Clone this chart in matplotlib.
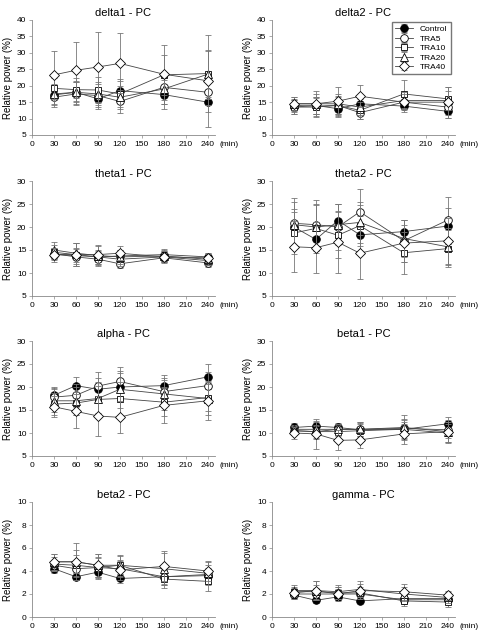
import matplotlib
matplotlib.use("Agg")
import matplotlib.pyplot as plt
import numpy as np

plt.rcParams['font.family'] = ['Liberation Sans', 'DejaVu Sans']

times = [30, 60, 90, 120, 180, 240]
groups = ["Control", "TRA5", "TRA10", "TRA20", "TRA40"]
xticks = [0, 30, 60, 90, 120, 150, 180, 210, 240]

titles = ["delta1 - PC", "delta2 - PC", "theta1 - PC", "theta2 - PC",
          "alpha - PC", "beta1 - PC", "beta2 - PC", "gamma - PC"]
ylims = [(5, 40), (5, 40), (5, 30), (5, 30), (5, 30), (5, 30), (0, 10), (0, 10)]
yticks_list = [np.arange(5, 41, 5), np.arange(5, 41, 5), np.arange(5, 31, 5), np.arange(5, 31, 5),
               np.arange(5, 31, 5), np.arange(5, 31, 5), np.arange(0, 11, 2), np.arange(0, 11, 2)]

# means per panel: Control, TRA5, TRA10, TRA20, TRA40
delta1 = [[17.2, 18.0, 16.0, 18.5, 17.3, 15.0],
          [16.5, 17.5, 17.0, 15.2, 19.5, 18.0],
          [19.2, 18.8, 18.7, 17.5, 23.3, 23.7],
          [17.5, 18.0, 17.5, 16.5, 19.0, 23.5],
          [23.3, 24.7, 25.7, 26.8, 23.5, 21.5]]
delta1_err = [[3.0, 3.0, 3.0, 3.5, 4.5, 3.0],
              [3.0, 3.5, 3.5, 3.5, 4.0, 4.0],
              [3.0, 3.5, 4.0, 4.0, 6.0, 7.0],
              [3.0, 3.5, 3.5, 3.5, 4.5, 7.5],
              [7.4, 8.5, 10.8, 9.1, 9.0, 14.0]]

delta2 = [[13.5, 14.0, 13.0, 14.5, 13.8, 12.2],
          [14.0, 13.8, 14.0, 11.8, 15.0, 13.5],
          [13.5, 13.5, 14.0, 12.5, 17.5, 16.0],
          [14.5, 14.5, 14.5, 13.5, 15.5, 15.5],
          [14.5, 14.5, 15.3, 16.8, 15.0, 15.0]]
delta2_err = [[2.0, 2.5, 2.5, 2.5, 1.8, 2.0],
              [2.0, 2.5, 2.5, 2.0, 2.0, 2.5],
              [2.0, 3.0, 3.0, 2.5, 4.3, 3.5],
              [2.0, 3.0, 3.0, 2.5, 2.5, 3.0],
              [2.2, 3.8, 4.4, 3.4, 2.5, 4.7]]

theta1 = [[14.0, 13.8, 13.5, 13.7, 14.0, 13.5],
          [14.2, 13.5, 13.0, 12.0, 13.3, 12.2],
          [14.5, 14.0, 13.5, 13.0, 13.5, 12.7],
          [15.0, 14.3, 13.8, 13.5, 13.7, 13.0],
          [14.0, 14.0, 14.0, 14.3, 13.5, 13.3]]
theta1_err = [[1.2, 1.5, 1.2, 1.2, 1.0, 0.8],
              [1.2, 2.0, 1.5, 1.0, 1.0, 1.0],
              [1.5, 2.5, 1.5, 1.5, 1.2, 1.0],
              [1.7, 2.3, 2.0, 1.5, 1.5, 1.2],
              [1.5, 2.5, 2.0, 1.5, 1.2, 1.0]]

theta2 = [[20.0, 17.3, 21.4, 18.3, 19.0, 20.2],
          [20.8, 20.5, 20.0, 23.3, 17.0, 21.5],
          [18.7, 19.7, 18.2, 20.3, 14.4, 15.3],
          [20.5, 20.0, 20.5, 21.0, 17.5, 15.7],
          [15.7, 15.5, 16.7, 14.3, 16.5, 17.0]]
theta2_err = [[4.0, 3.0, 3.5, 4.0, 2.5, 4.0],
              [5.5, 5.3, 5.0, 5.0, 4.5, 5.1],
              [4.5, 5.0, 5.0, 4.5, 4.6, 4.0],
              [5.0, 5.0, 4.5, 4.5, 4.0, 4.0],
              [5.5, 5.5, 6.7, 5.6, 4.0, 5.0]]

alpha = [[18.2, 20.3, 19.5, 20.0, 20.3, 22.2],
         [17.8, 18.2, 20.2, 21.2, 19.0, 20.3],
         [16.3, 16.5, 17.3, 17.5, 16.7, 17.7],
         [17.0, 17.0, 17.5, 19.5, 18.5, 17.5],
         [15.7, 14.7, 13.7, 13.4, 16.0, 17.0]]
alpha_err = [[1.8, 1.8, 2.5, 3.0, 2.3, 2.7],
             [2.0, 2.5, 3.0, 3.2, 2.5, 3.0],
             [2.3, 2.5, 3.0, 3.5, 3.0, 3.0],
             [2.5, 3.0, 3.5, 4.0, 3.5, 3.5],
             [2.3, 3.7, 4.3, 3.5, 3.9, 4.2]]

beta1 = [[11.2, 11.5, 11.2, 10.7, 10.8, 12.0],
         [10.5, 10.3, 10.8, 10.8, 11.0, 10.7],
         [10.5, 10.3, 10.3, 10.5, 10.8, 10.0],
         [10.8, 10.8, 10.8, 10.8, 11.2, 10.3],
         [10.0, 9.8, 8.4, 8.5, 9.8, 10.3]]
beta1_err = [[1.0, 1.2, 1.0, 1.5, 1.5, 1.5],
             [1.0, 1.3, 1.0, 1.5, 2.0, 1.8],
             [1.0, 1.5, 1.0, 1.5, 2.0, 2.0],
             [1.0, 1.5, 1.2, 1.5, 2.8, 2.2],
             [1.2, 3.3, 2.2, 1.8, 2.2, 2.5]]

beta2 = [[4.2, 3.5, 3.9, 3.35, 3.5, 3.6],
         [4.5, 4.2, 4.3, 4.2, 3.5, 3.7],
         [4.6, 4.5, 4.3, 4.5, 3.3, 3.1],
         [4.8, 4.8, 4.5, 4.5, 4.2, 3.8],
         [4.8, 4.8, 4.5, 4.1, 4.4, 4.0]]
beta2_err = [[0.4, 0.3, 0.6, 0.4, 0.6, 0.7],
             [0.5, 0.7, 0.8, 0.7, 0.7, 0.8],
             [0.6, 0.9, 0.9, 0.8, 0.8, 0.8],
             [0.7, 1.0, 1.0, 0.9, 1.4, 1.0],
             [0.7, 1.6, 1.0, 0.9, 1.3, 0.9]]

gamma = [[1.9, 1.45, 1.75, 1.4, 1.6, 1.6],
         [2.0, 2.0, 2.0, 2.0, 1.5, 1.5],
         [2.2, 2.2, 2.1, 2.1, 1.4, 1.3],
         [2.3, 2.3, 2.2, 2.4, 2.0, 1.7],
         [2.1, 2.3, 2.0, 2.3, 2.2, 1.9]]
gamma_err = [[0.3, 0.2, 0.3, 0.2, 0.3, 0.3],
             [0.4, 0.5, 0.4, 0.4, 0.4, 0.4],
             [0.4, 0.6, 0.5, 0.5, 0.4, 0.4],
             [0.5, 0.8, 0.6, 0.7, 0.6, 0.5],
             [0.4, 0.8, 0.6, 0.6, 0.7, 0.4]]

means = [delta1, delta2, theta1, theta2, alpha, beta1, beta2, gamma]
errs = [delta1_err, delta2_err, theta1_err, theta2_err, alpha_err, beta1_err, beta2_err, gamma_err]

markers = ["o", "o", "s", "^", "D"]
faces = ["black", "white", "white", "white", "white"]
msizes = [5.5, 5.5, 5.0, 5.5, 4.6]

fig = plt.figure(figsize=(4.8, 6.39), dpi=100)
lefts = [32 / 480, 272 / 480]
width = 183 / 480
tops = [20, 181, 341, 502]
height = 115 / 639

for i in range(8):
    r, c = divmod(i, 2)
    top = tops[r]
    ax = fig.add_axes([lefts[c], 1 - (top + 115) / 639, width, height])
    for g in range(5):
        ax.errorbar(times, means[i][g], yerr=errs[i][g], marker=markers[g],
                    mfc=faces[g], mec="black", mew=0.6, ms=msizes[g],
                    color="#444444", lw=0.6, ecolor="#777777", elinewidth=0.6,
                    capsize=2, capthick=0.6, label=groups[g], zorder=3 + g)
    ax.set_xlim(0, 250)
    ax.set_ylim(*ylims[i])
    ax.set_xticks(xticks)
    ax.set_yticks(yticks_list[i])
    for s in ["top", "right"]:
        ax.spines[s].set_visible(False)
    for s in ["left", "bottom"]:
        ax.spines[s].set_color("#888888")
        ax.spines[s].set_linewidth(0.6)
    ax.tick_params(labelsize=6, length=2, width=0.5, color="#888888", pad=2)
    ax.set_title(titles[i], fontsize=8, pad=3)
    ax.set_ylabel("Relative power (%)", fontsize=7, labelpad=3)
    ax.annotate("(min)", xy=(1, 0), xycoords="axes fraction", xytext=(3, -4),
                textcoords="offset points", ha="left", va="top", fontsize=6)
    if i == 1:
        ax.legend(loc="upper right", fontsize=6, frameon=True, fancybox=False,
                  edgecolor="#555555", handlelength=2.2, borderpad=0.4,
                  labelspacing=0.2, bbox_to_anchor=(1.0, 1.02))

fig.savefig("out.png", dpi=100)
